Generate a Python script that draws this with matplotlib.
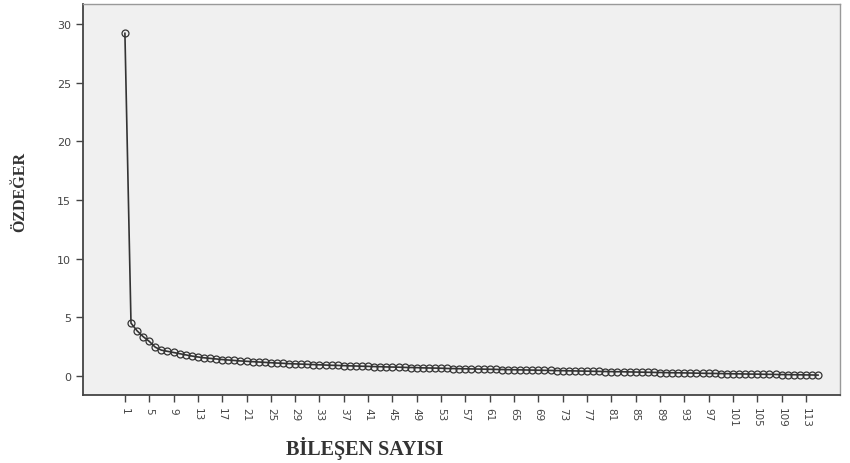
import matplotlib.pyplot as plt

# eigenvalues, one per component
eigenvalues = [
    29.2, 4.5, 3.85, 3.35, 2.95, 2.45, 2.2, 2.1, 2.0, 1.9,
    1.8, 1.7, 1.62, 1.55, 1.5, 1.45, 1.4, 1.36, 1.32, 1.28,
    1.25, 1.22, 1.19, 1.16, 1.13, 1.10, 1.08, 1.05, 1.03, 1.01,
    0.99, 0.97, 0.95, 0.93, 0.91, 0.90, 0.88, 0.86, 0.85, 0.83,
    0.82, 0.80, 0.79, 0.77, 0.76, 0.75, 0.73, 0.72, 0.71, 0.69,
    0.68, 0.67, 0.66, 0.64, 0.63, 0.62, 0.61, 0.60, 0.59, 0.58,
    0.57, 0.56, 0.55, 0.54, 0.53, 0.52, 0.51, 0.50, 0.49, 0.48,
    0.47, 0.46, 0.45, 0.44, 0.43, 0.42, 0.41, 0.40, 0.39, 0.38,
    0.37, 0.36, 0.355, 0.345, 0.335, 0.325, 0.315, 0.305, 0.295, 0.285,
    0.275, 0.27, 0.26, 0.25, 0.24, 0.23, 0.22, 0.215, 0.205, 0.195,
    0.185, 0.18, 0.17, 0.16, 0.155, 0.145, 0.14, 0.13, 0.12, 0.115,
    0.105, 0.1, 0.09, 0.085, 0.075,
]
components = list(range(1, len(eigenvalues) + 1))
x_ticks = list(range(1, 114, 4))
y_ticks = [0, 5, 10, 15, 20, 25, 30]

fig = plt.figure(figsize=(8.5, 4.64), dpi=100)
ax = fig.add_axes([0.0976, 0.1466, 0.8906, 0.8427])
ax.set_facecolor("#f0f0f0")

ax.plot(components, eigenvalues, color="#333333", linewidth=1.2,
        marker="o", markersize=5, markerfacecolor="none",
        markeredgecolor="#333333", markeredgewidth=0.9)

ax.set_xlim(-5.9, 118.6)
ax.set_ylim(-1.62, 31.7)
ax.set_xticks(x_ticks)
ax.set_xticklabels([str(t) for t in x_ticks], rotation=270, fontsize=7.5, color="#444444")
ax.set_yticks(y_ticks)
ax.set_yticklabels([str(t) for t in y_ticks], fontsize=8, color="#444444")
ax.tick_params(direction="out", length=5, width=1, color="#444444")

for side in ["left", "bottom"]:
    ax.spines[side].set_color("#444444")
    ax.spines[side].set_linewidth(1.3)
for side in ["top", "right"]:
    ax.spines[side].set_color("#999999")
    ax.spines[side].set_linewidth(1)

ax.set_xlabel("BİLEŞEN SAYISI", family="Liberation Serif", fontsize=14.5,
              fontweight="bold", color="#333333", va="center")
ax.xaxis.set_label_coords(0.3725, -0.1355)
ax.set_ylabel("ÖZDEĞER", family="Liberation Serif", fontsize=11.5,
              fontweight="bold", color="#333333", va="center")
ax.yaxis.set_label_coords(-0.083, 0.522)

fig.savefig("out.png")
plt.close(fig)
